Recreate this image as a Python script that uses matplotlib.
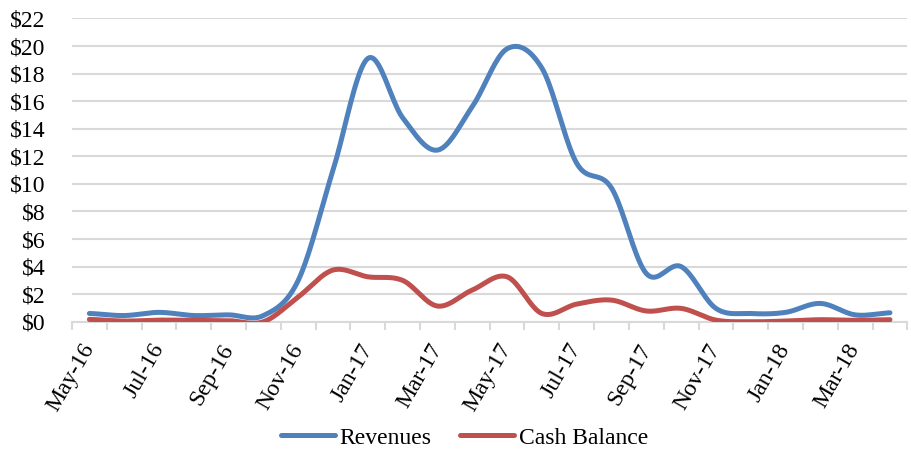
import matplotlib
matplotlib.use('Agg')
import matplotlib.pyplot as plt
import numpy as np

# monthly data, $ millions
months = ['May-16', 'Jun-16', 'Jul-16', 'Aug-16', 'Sep-16', 'Oct-16', 'Nov-16', 'Dec-16',
          'Jan-17', 'Feb-17', 'Mar-17', 'Apr-17', 'May-17', 'Jun-17', 'Jul-17', 'Aug-17',
          'Sep-17', 'Oct-17', 'Nov-17', 'Dec-17', 'Jan-18', 'Feb-18', 'Mar-18', 'Apr-18']
revenues = [0.6, 0.45, 0.68, 0.45, 0.5, 0.45, 3.0, 11.0, 19.1, 14.8, 12.45, 15.6,
            19.8, 18.4, 11.5, 9.7, 3.5, 4.0, 0.97, 0.6, 0.68, 1.33, 0.5, 0.65]
cash_balance = [0.17, 0.05, 0.12, 0.1, 0.08, 0.0, 1.8, 3.75, 3.26, 3.0, 1.14, 2.3,
                3.26, 0.6, 1.28, 1.57, 0.78, 0.97, 0.12, 0.0, 0.05, 0.15, 0.1, 0.15]

BLUE = '#4F81BD'
RED = '#C0504D'
GRID = '#D9D9D9'


def smooth(y, n=20):
    """Excel-style smoothed line (Catmull-Rom through the points)"""
    y = np.asarray(y, dtype=float)
    p = np.concatenate([[y[0]], y, [y[-1]]])
    xs, ys = [], []
    for i in range(len(y) - 1):
        p0, p1, p2, p3 = p[i], p[i + 1], p[i + 2], p[i + 3]
        t = np.linspace(0, 1, n, endpoint=False)
        seg = 0.5 * ((2 * p1) + (-p0 + p2) * t + (2 * p0 - 5 * p1 + 4 * p2 - p3) * t ** 2
                     + (-p0 + 3 * p1 - 3 * p2 + p3) * t ** 3)
        xs.append(i + t)
        ys.append(seg)
    xs.append([len(y) - 1])
    ys.append([y[-1]])
    return np.concatenate(xs), np.concatenate(ys)


plt.rcParams['font.family'] = ['Liberation Serif', 'DejaVu Serif']

fig = plt.figure(figsize=(9.11, 4.5), dpi=100)
ax = fig.add_axes([0.079, 0.285, 0.917, 0.674])

x = np.arange(len(months))
for vals, color, label in [(revenues, BLUE, 'Revenues'), (cash_balance, RED, 'Cash Balance')]:
    sx, sy = smooth(vals)
    ax.plot(sx, sy, color=color, lw=3.6, solid_capstyle='round', label=label, zorder=3)

ax.set_xlim(-0.5, len(months) - 0.5)
ax.set_ylim(0, 22)
ax.set_yticks(np.arange(0, 23, 2))
ax.set_yticklabels([f'${v}' for v in range(0, 23, 2)])
ax.yaxis.grid(True, color=GRID, lw=1.5)
ax.set_axisbelow(True)

ax.set_xticks(x[::2])
ax.set_xticklabels(months[::2], rotation=60, ha='right', va='center', rotation_mode='anchor')
ax.set_xticks(np.arange(-0.5, len(months), 1), minor=True)
ax.tick_params(axis='x', which='major', length=0, pad=17, labelsize=17)
ax.tick_params(axis='x', which='minor', length=6, width=1.5, color=GRID)
ax.tick_params(axis='y', length=0, pad=19, labelsize=17)

for s in ['top', 'right', 'left']:
    ax.spines[s].set_visible(False)
ax.spines['bottom'].set_color(GRID)
ax.spines['bottom'].set_linewidth(1.5)

fig.legend(loc='center', bbox_to_anchor=(0.51, 0.027), ncol=2, frameon=False,
           fontsize=17, handlelength=2.3, handletextpad=0.2, columnspacing=1.2)

fig.savefig('out.png', dpi=100)
